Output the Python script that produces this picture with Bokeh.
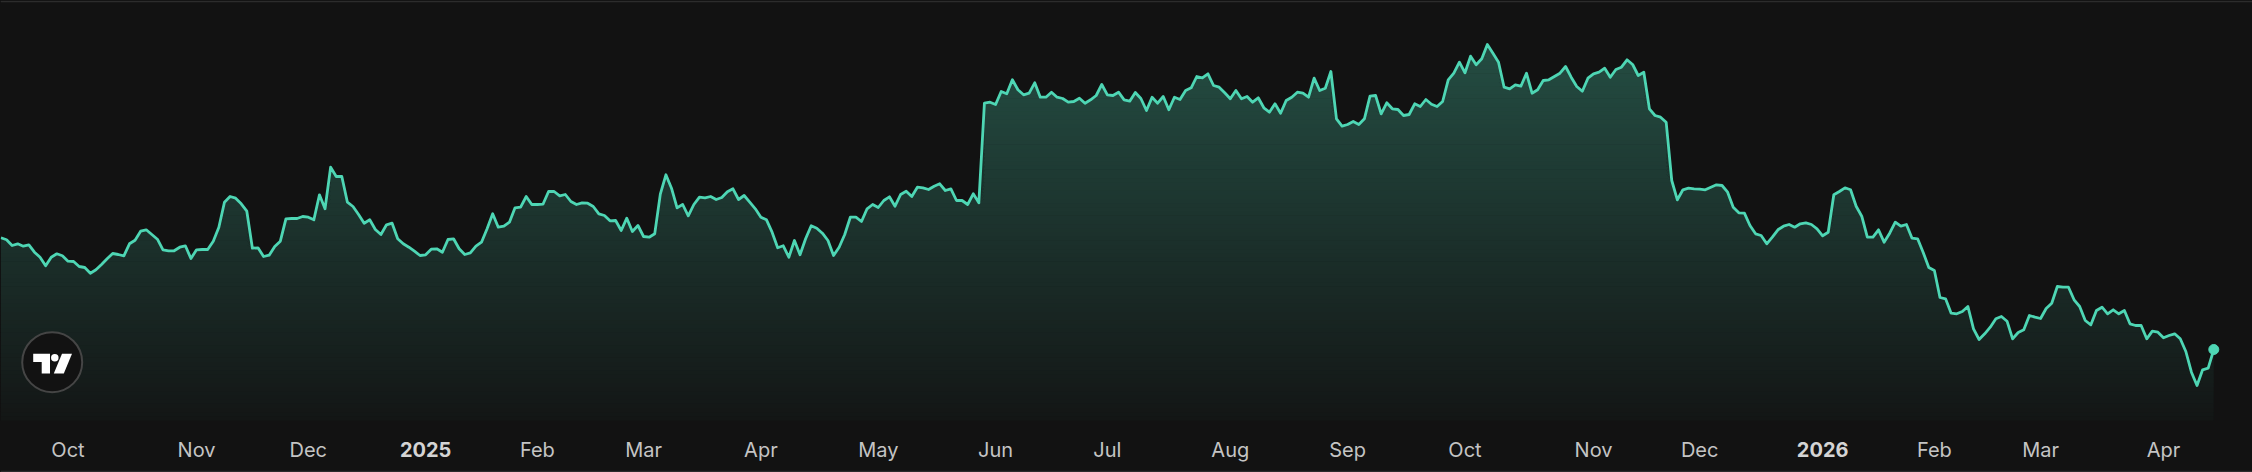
import numpy as np
from bokeh.plotting import figure
from bokeh.models import Range1d, ColumnDataSource
from bokeh.core.properties import value
from bokeh.embed import file_html
from bokeh.resources import INLINE

# ---------------- data (one value per trading session) ----------------
close = [
    23.47, 23.27, 22.70, 22.87, 22.63, 22.77, 22.03, 21.53, 20.67, 21.53,
    21.87, 21.67, 21.13, 21.10, 20.60, 20.50, 19.93, 20.27, 20.80, 21.37,
    21.90, 21.80, 21.67, 22.87, 23.23, 24.13, 24.27, 23.80, 23.33, 22.27,
    22.17, 22.17, 22.53, 22.67, 21.40, 22.27, 22.30, 22.30, 23.13, 24.53,
    27.03, 27.60, 27.43, 26.87, 26.13, 22.43, 22.47, 21.60, 21.73, 22.60,
    23.13, 25.37, 25.40, 25.40, 25.60, 25.53, 25.27, 27.77, 26.37, 30.53,
    29.60, 29.60, 27.03, 26.60, 25.80, 24.93, 25.27, 24.30, 23.80, 24.77,
    24.93, 23.37, 22.87, 22.53, 22.13, 21.70, 21.77, 22.33, 22.37, 22.03,
    23.30, 23.37, 22.37, 21.80, 21.97, 22.63, 23.03, 24.37, 25.87, 24.53,
    24.63, 25.03, 26.47, 26.53, 27.60, 26.80, 26.80, 26.83, 28.10, 28.10,
    27.67, 27.80, 27.10, 26.80, 26.97, 26.93, 26.60, 25.87, 25.70, 25.17,
    25.20, 24.20, 25.43, 24.10, 24.70, 23.60, 23.53, 23.87, 27.84, 29.77,
    28.43, 26.47, 26.80, 25.67, 26.80, 27.53, 27.47, 27.60, 27.30, 27.50,
    28.07, 28.37, 27.30, 27.70, 27.03, 26.37, 25.53, 25.27, 24.03, 22.47,
    22.67, 21.53, 23.20, 21.77, 23.37, 24.67, 24.43, 23.93, 23.20, 21.70,
    22.53, 23.80, 25.53, 25.53, 25.10, 26.37, 26.80, 26.50, 27.20, 27.57,
    26.63, 27.80, 28.13, 27.60, 28.53, 28.47, 28.30, 28.63, 28.87, 28.20,
    28.37, 27.20, 27.20, 26.80, 27.87, 26.97, 36.93, 37.03, 36.80, 38.10,
    37.87, 39.27, 38.27, 37.77, 37.93, 38.97, 37.53, 37.53, 38.03, 37.53,
    37.40, 37.03, 37.10, 37.43, 36.93, 37.27, 37.70, 38.80, 37.77, 37.70,
    38.03, 37.27, 37.13, 38.00, 37.40, 36.20, 37.53, 36.93, 37.60, 36.27,
    37.53, 37.30, 38.20, 38.47, 39.60, 39.47, 39.87, 38.70, 38.53, 37.97,
    37.37, 38.20, 37.37, 37.60, 37.03, 37.47, 36.47, 36.03, 36.87, 35.93,
    37.20, 37.53, 38.03, 37.93, 37.53, 39.43, 38.20, 38.43, 40.10, 35.37,
    34.63, 34.80, 35.10, 34.80, 35.37, 37.63, 37.70, 35.87, 36.97, 36.37,
    36.30, 35.70, 35.80, 36.87, 36.60, 37.30, 36.83, 36.60, 37.10, 39.27,
    39.93, 41.03, 39.97, 41.63, 40.77, 41.37, 42.80, 41.93, 41.03, 38.53,
    38.37, 38.77, 38.63, 39.93, 37.93, 38.27, 39.20, 39.27, 39.60, 39.93,
    40.60, 39.53, 38.60, 38.13, 39.43, 39.87, 40.03, 40.43, 39.53, 40.30,
    40.53, 41.27, 40.80, 39.70, 40.03, 36.37, 35.70, 35.53, 35.03, 29.20,
    27.27, 28.27, 28.43, 28.37, 28.33, 28.27, 28.53, 28.77, 28.70, 28.03,
    26.53, 25.97, 25.93, 24.70, 23.87, 23.70, 22.87, 23.53, 24.27, 24.63,
    24.80, 24.53, 24.87, 24.97, 24.80, 24.37, 23.67, 24.03, 27.77, 28.10,
    28.47, 28.27, 26.63, 25.63, 23.53, 23.53, 24.27, 23.03, 23.93, 25.03,
    24.63, 24.80, 23.43, 23.37, 22.00, 20.50, 20.20, 17.50, 17.37, 15.93,
    15.87, 16.10, 16.60, 14.37, 13.30, 13.87, 14.53, 15.37, 15.60, 15.13,
    13.37, 14.00, 14.27, 15.70, 15.53, 15.40, 16.40, 16.93, 18.60, 18.53,
    18.53, 17.27, 16.60, 15.20, 14.77, 16.20, 16.53, 15.87, 16.27, 15.87,
    16.20, 14.87, 14.70, 14.70, 13.37, 14.13, 14.03, 13.47, 13.70, 13.87,
    13.37, 12.10, 10.03, 8.70, 10.27, 10.43, 12.30,
]

# session index of the first trading day of each month, and its label
tick_index = [12, 35, 55, 76, 96, 115, 136, 157, 178, 198,
              220, 241, 262, 285, 304, 326, 346, 365, 387]
tick_labels = ["Oct", "Nov", "Dec", "2025", "Feb", "Mar", "Apr", "May", "Jun", "Jul",
               "Aug", "Sep", "Oct", "Nov", "Dec", "2026", "Feb", "Mar", "Apr"]
year_labels = ["2025", "2026"]

# ---------------- style ----------------
BG = "#121212"
LINE = "#4ed6b4"
LABEL = "#c4c4c4"
YEAR = "#d4d4d4"
FONT = "Inter"

W, H = 2252, 472

# screen geometry helpers (pixel -> data)
X0, DX = 0.44, 5.588
def px_x(X):
    return (X - X0) / DX
def px_y(Y):
    return 47.2 - Y / 10.0

PANE_BOTTOM = 420   # pixel row where the price pane ends and the time strip begins
LABEL_BASELINE = 449

x = np.arange(len(close))
v = np.array(close, dtype=float)

p = figure(width=W, height=H, output_backend="svg", toolbar_location=None,
           x_range=Range1d(px_x(0), px_x(W)),
           y_range=Range1d(px_y(H), px_y(0)),
           x_axis_location=None, y_axis_location=None,
           min_border=0,
           background_fill_color=BG, border_fill_color=BG,
           outline_line_color=None)
p.grid.visible = False

# ---------------- gradient area (horizontal bands) ----------------
def blend(alpha):
    bg = np.array([18, 18, 18], float)
    fg = np.array([78, 214, 180], float)
    c = bg + alpha * (fg - bg)
    return "#%02x%02x%02x" % tuple(int(round(t)) for t in c)

top_v = px_y(44)
bot_v = px_y(PANE_BOTTOM)
nb = 90
edges = np.linspace(bot_v, top_v, nb + 1)
edges[-1] = v.max() + 5
for k in range(nb):
    a, b = edges[k], edges[k + 1]
    mid = 0.5 * (max(a, bot_v) + min(b, top_v))
    t = (mid - bot_v) / (top_v - bot_v)
    alpha = 0.02 + 0.28 * t
    y1 = np.minimum(v, a)
    y2 = np.minimum(v, b + 0.06)
    p.varea(x=x, y1=y1, y2=y2, fill_color=blend(alpha), fill_alpha=1.0)

# ---------------- line + last point ----------------
p.line(x, v, line_color=LINE, line_width=2.8, line_join="round")
p.scatter([x[-1]], [v[-1]], size=10, fill_color=LINE, line_color=LINE)

# ---------------- time scale labels ----------------
lab = ColumnDataSource(dict(
    x=tick_index,
    y=[px_y(LABEL_BASELINE)] * len(tick_index),
    text=tick_labels,
    style=["bold" if l in year_labels else "normal" for l in tick_labels],
    color=[YEAR if l in year_labels else LABEL for l in tick_labels],
))
p.text(x="x", y="y", text="text", source=lab, text_align="center",
       text_baseline="alphabetic", text_font=value(FONT),
       text_font_size="20px", text_font_style="style", text_color="color")

# thin frame lines at top and bottom of the widget
p.hspan(y=[px_y(0.7), px_y(471.3)], line_color="#2c2c2c", line_width=1.5)

# ---------------- TradingView badge ----------------
p.scatter([px_x(51.7)], [px_y(361.7)], size=60, fill_color="#121212",
          line_color="#454545", line_width=2)
t_shape_x = [px_x(a) for a in (32.7, 49.5, 49.5, 41.2, 41.2, 32.7)]
t_shape_y = [px_y(b) for b in (353.3, 353.3, 373.0, 373.0, 361.5, 361.5)]
slash_x = [px_x(a) for a in (61.5, 71.5, 63.3, 53.3)]
slash_y = [px_y(b) for b in (353.3, 353.3, 373.0, 373.0)]
p.patches([t_shape_x, slash_x], [t_shape_y, slash_y], fill_color="white",
          line_color=None)
p.scatter([px_x(54.3)], [px_y(357.3)], size=7.5, fill_color="white",
          line_color=None)

html = file_html(p, INLINE, title="chart")
html = html.replace("</head>", "<style>html,body{background:#121212;}</style></head>")
open("out.html", "w").write(html)
